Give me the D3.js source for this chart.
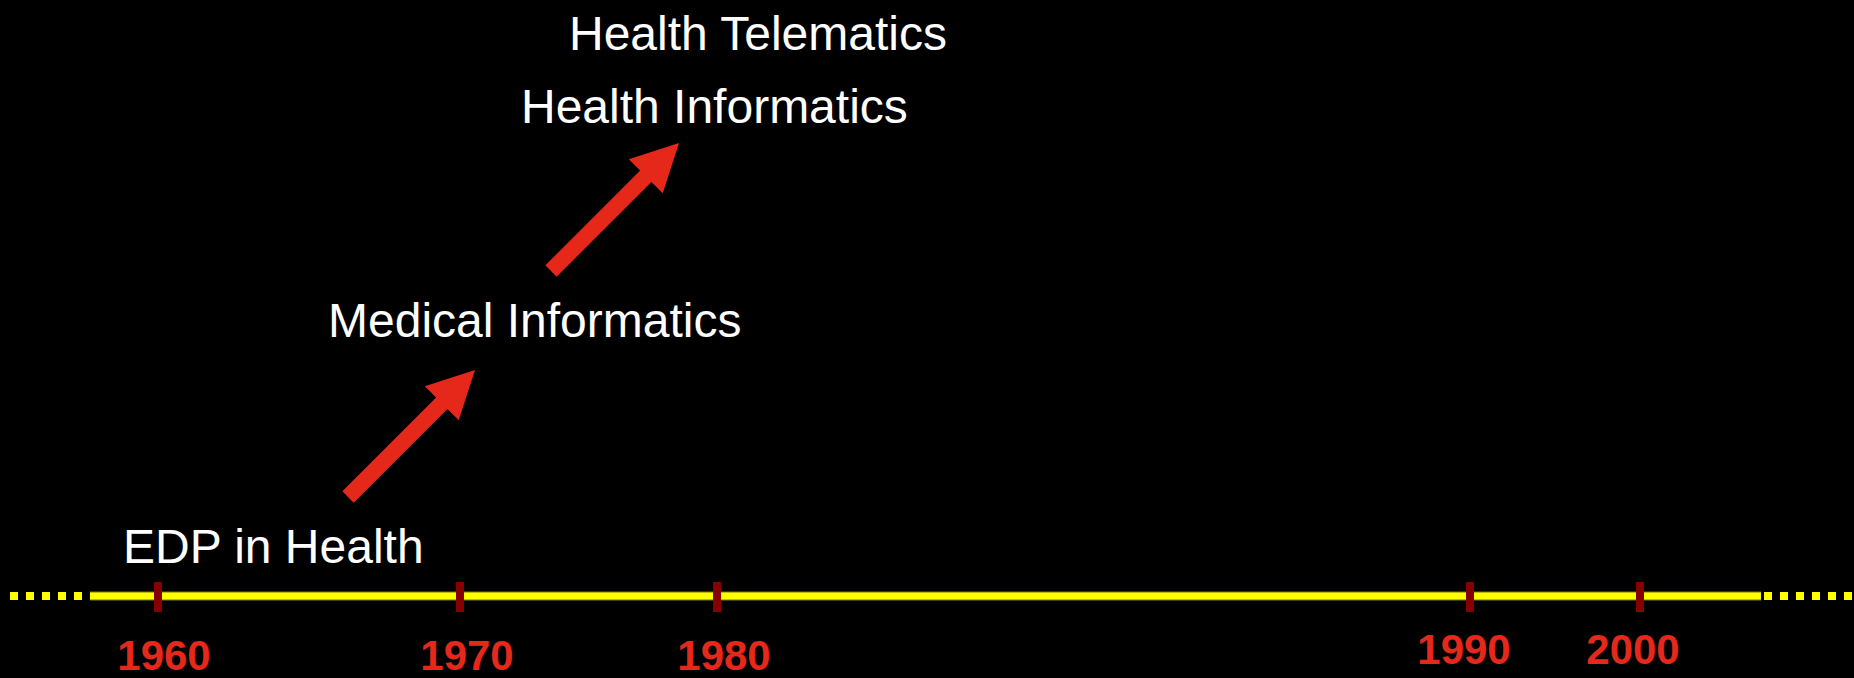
<!DOCTYPE html>
<html>
<head>
<meta charset="utf-8">
<script src="https://cdn.jsdelivr.net/npm/d3@7"></script>
<style>
  html, body { margin: 0; padding: 0; background: #000; overflow: hidden; }
  text { font-family: "Liberation Sans", Arial, sans-serif; }
</style>
</head>
<body>
<script>
// timeline years + the stage names
var years = [1960, 1970, 1980, 1990, 2000];
var yearLabels = ["1960", "1970", "1980", "1990", "2000"];
var stages = ["EDP in Health", "Medical Informatics", "Health Informatics", "Health Telematics"];
var arrowLinks = [[0, 1], [1, 2]];

var width = 1854;
var height = 678;

// layout (the years are not evenly spaced on the slide)
var tickX = [158, 460, 717, 1470, 1640];
var labelShift = [[6, 0], [7, 0], [7, 0], [-6, -6], [-7, -6]];
var stagePos = [[123, 563], [328, 337], [521, 123], [569, 50]];
var arrowPos = [[[348, 497], [475, 370]], [[551, 271], [679, 143]]];
var lineY = 596;

var red = "#e5281a";

var x = d3.scaleLinear().domain(years).range(tickX);

var svg = d3.select("body")
    .append("svg")
    .attr("width", width)
    .attr("height", height)
    .style("display", "block")
    .style("background", "#000");

// timeline
var tl = svg.append("g");
tl.append("line")
    .attr("x1", 90).attr("x2", 1761)
    .attr("y1", lineY).attr("y2", lineY)
    .attr("stroke", "#7a7a00")
    .attr("stroke-width", 9);
tl.append("line")
    .attr("x1", 90).attr("x2", 1761)
    .attr("y1", lineY).attr("y2", lineY)
    .attr("stroke", "#ffff00")
    .attr("stroke-width", 7);
// dotted ends
tl.selectAll("line.dots")
    .data([[10, 90], [1764, 1854]])
    .enter()
    .append("line")
    .attr("class", "dots")
    .attr("x1", d => d[0]).attr("x2", d => d[1])
    .attr("y1", lineY).attr("y2", lineY)
    .attr("stroke", "#ffff00")
    .attr("stroke-width", 8)
    .attr("stroke-dasharray", "8,8");

// ticks
tl.selectAll("rect.tick")
    .data(years)
    .enter()
    .append("rect")
    .attr("class", "tick")
    .attr("x", d => x(d) - 4)
    .attr("y", 582)
    .attr("width", 8)
    .attr("height", 30)
    .attr("fill", "#860000");

// year labels
tl.selectAll("text.year")
    .data(years)
    .enter()
    .append("text")
    .attr("class", "year")
    .attr("x", (d, i) => x(d) + labelShift[i][0])
    .attr("y", (d, i) => 670 + labelShift[i][1])
    .attr("text-anchor", "middle")
    .attr("font-size", 42)
    .attr("font-weight", "bold")
    .attr("fill", red)
    .text((d, i) => yearLabels[i]);

// stage names
svg.selectAll("text.stage")
    .data(stages)
    .enter()
    .append("text")
    .attr("class", "stage")
    .attr("x", (d, i) => stagePos[i][0])
    .attr("y", (d, i) => stagePos[i][1])
    .attr("font-size", 48)
    .attr("fill", "#fff")
    .text(d => d);

// arrows between stages
function arrowPath(a, b) {
    var dx = b[0] - a[0], dy = b[1] - a[1];
    var len = Math.sqrt(dx * dx + dy * dy);
    var ux = dx / len, uy = dy / len;
    var nx = -uy, ny = ux;
    var w = 8, hw = 24, hl = 47;
    var neck = [b[0] - ux * hl, b[1] - uy * hl];
    var pts = [
        [a[0] + nx * w, a[1] + ny * w],
        [neck[0] + nx * w, neck[1] + ny * w],
        [neck[0] + nx * hw, neck[1] + ny * hw],
        b,
        [neck[0] - nx * hw, neck[1] - ny * hw],
        [neck[0] - nx * w, neck[1] - ny * w],
        [a[0] - nx * w, a[1] - ny * w]
    ];
    return d3.line()(pts) + "Z";
}

svg.selectAll("path.arrow")
    .data(arrowLinks)
    .enter()
    .append("path")
    .attr("class", "arrow")
    .attr("fill", red)
    .attr("d", (d, i) => arrowPath(arrowPos[i][0], arrowPos[i][1]));
</script>
</body>
</html>
